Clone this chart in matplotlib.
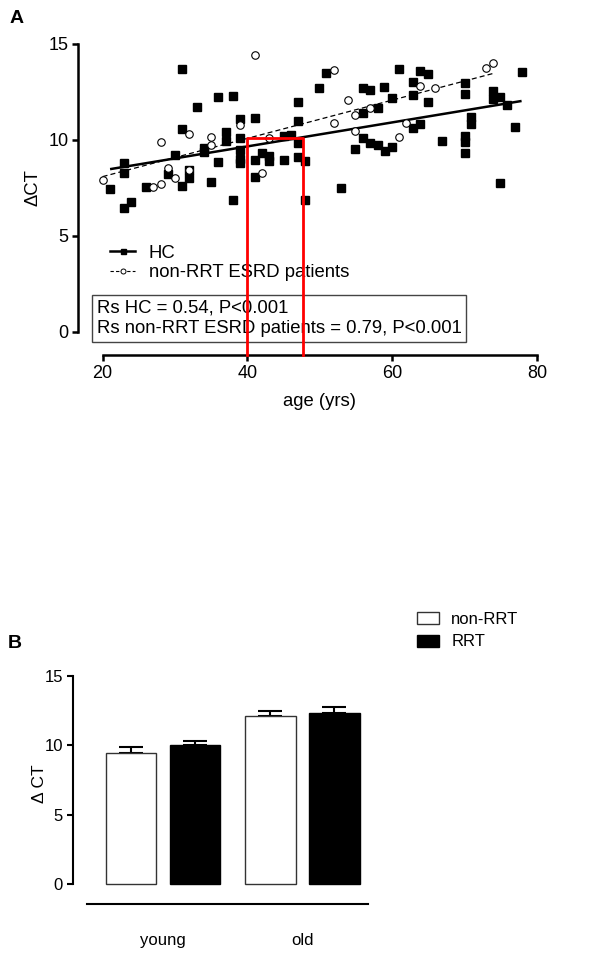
import numpy as np
import matplotlib
matplotlib.use("Agg")
import matplotlib.pyplot as plt
from matplotlib.lines import Line2D
from matplotlib.patches import Patch

plt.rcParams['font.family'] = ['Liberation Sans', 'DejaVu Sans']

# ---------------- panel A data ----------------
hc_age = [21.0, 22.9, 22.9, 22.9, 23.9, 26.0, 29.0, 30.0, 31.0, 31.0, 31.0, 32.0, 32.0,
          33.0, 34.0, 34.0, 35.0, 35.9, 35.9, 37.0, 37.0, 38.0, 38.0, 39.0, 39.0, 39.0,
          39.0, 39.0, 41.0, 41.0, 41.0, 42.0, 43.0, 43.0, 45.0, 45.0, 46.0, 47.0, 47.0,
          47.0, 47.0, 48.0, 48.0, 49.9, 50.9, 52.9, 54.9, 56.0, 56.0, 56.0, 57.0, 57.0,
          58.0, 58.0, 58.9, 59.0, 60.0, 60.0, 60.9, 62.9, 62.9, 62.9, 63.9, 63.9, 64.9,
          64.9, 66.9, 70.0, 70.0, 70.0, 70.0, 70.0, 70.9, 70.9, 73.9, 73.9, 74.9, 74.9,
          75.9, 76.9, 77.9]
hc_ct = [7.47, 8.82, 8.26, 6.47, 6.77, 7.57, 8.23, 9.22, 13.71, 10.56, 7.60, 8.44, 8.02,
         11.70, 9.60, 9.39, 7.81, 12.22, 8.87, 10.43, 9.95, 12.31, 6.88, 11.08, 10.08, 9.49,
         9.00, 8.79, 11.14, 8.94, 8.07, 9.30, 9.17, 8.92, 10.19, 8.97, 10.25, 11.97, 10.97,
         9.83, 9.13, 8.89, 6.88, 12.73, 13.47, 7.50, 9.51, 12.73, 11.39, 10.09, 12.59, 9.86,
         11.68, 9.74, 12.74, 9.44, 12.20, 9.65, 13.68, 13.04, 12.34, 10.64, 13.61, 10.82, 13.42,
         12.00, 9.93, 12.95, 12.38, 10.21, 9.90, 9.34, 11.18, 10.82, 12.57, 12.12, 12.24, 7.74,
         11.84, 10.66, 13.54]

esrd_age = [20.0, 27.0, 28.0, 28.0, 29.0, 30.0, 32.0, 32.0, 35.0, 35.0, 39.0, 41.0, 42.0,
            43.0, 51.9, 51.9, 53.9, 54.9, 54.9, 57.0, 60.9, 61.9, 63.9, 65.9, 72.9, 73.9]
esrd_ct = [7.92, 7.57, 9.90, 7.71, 8.52, 8.02, 10.31, 8.44, 10.17, 9.72, 10.78, 14.44, 8.26,
           10.12, 13.65, 10.87, 12.10, 11.29, 10.47, 11.68, 10.14, 10.87, 12.81, 12.71, 13.77, 13.99]

# regression lines (end points)
hc_fit_age = [21.2, 77.7]
hc_fit_ct = [8.49, 12.02]
esrd_fit_age = [20.0, 74.0]
esrd_fit_ct = [8.09, 13.47]

# highlighted age window
box_age = [40.0, 47.7]
box_ct = 10.1

stats_text = "Rs HC = 0.54, P<0.001\nRs non-RRT ESRD patients = 0.79, P<0.001"

# ---------------- panel B data ----------------
groups = ['young', 'old']
nonrrt_mean = [9.44, 12.11]
nonrrt_sem = [0.46, 0.38]
rrt_mean = [10.0, 12.35]
rrt_sem = [0.33, 0.38]

fig = plt.figure(figsize=(6, 9.56), dpi=100)

# =================== A ===================
axA = fig.add_axes([0.13, 0.6287, 0.765, 0.3253])
axA.plot(hc_age, hc_ct, ls='none', marker='s', ms=5.4, mfc='black', mec='black', zorder=3)
axA.plot(esrd_age, esrd_ct, ls='none', marker='o', ms=5.4, mfc='white', mec='black',
         mew=0.8, zorder=3)
axA.plot(hc_fit_age, hc_fit_ct, color='black', lw=1.8, zorder=2)
axA.plot(esrd_fit_age, esrd_fit_ct, color='black', lw=0.9, ls=(0, (4, 2.5)), zorder=2)

# red window (three sides, bottom sits on the axis)
axA.plot([box_age[0], box_age[0], box_age[1], box_age[1]],
         [-1.2, box_ct, box_ct, -1.2], color='red', lw=2, zorder=6, clip_on=False)

axA.set_xlim(16.6, 80)
axA.set_ylim(-1.2, 15)
axA.set_xticks([20, 40, 60, 80])
axA.set_yticks([0, 5, 10, 15])
for s in ['top', 'right']:
    axA.spines[s].set_visible(False)
axA.spines['left'].set_bounds(0, 15)
axA.spines['bottom'].set_bounds(20, 80)
for s in ['left', 'bottom']:
    axA.spines[s].set_linewidth(1.8)
axA.tick_params(width=1.8, length=4, labelsize=13, pad=3)

axA.set_xlabel('age (yrs)', fontsize=13.3)
axA.xaxis.set_label_coords(0.527, -0.150)
axA.xaxis.label.set_va('center')
axA.set_ylabel('ΔCT', fontsize=13.3)
axA.yaxis.set_label_coords(-0.098, 0.537)
axA.yaxis.label.set_va('center')

legA = [Line2D([], [], color='black', lw=1.8, marker='s', ms=3.6),
        Line2D([], [], color='black', lw=0.8, ls=(0, (3, 2)), marker='o', ms=3.6,
               mfc='white', mew=0.7)]
axA.legend(legA, ['HC', 'non-RRT ESRD patients'], loc='center left',
           bbox_to_anchor=(0.07, 0.296), frameon=False, fontsize=13.3, borderpad=0,
           borderaxespad=0, handlelength=1.35, handletextpad=0.75, labelspacing=0.12)

axA.text(0.041, 0.117, stats_text, transform=axA.transAxes, fontsize=13.3, va='center',
         ha='left', linespacing=1.25, zorder=5,
         bbox=dict(boxstyle='square,pad=0.26', fc='white', ec='#444444', lw=1.0))

fig.text(0.028, 0.981, 'A', fontsize=14, fontweight='bold', ha='center', va='center')

# =================== B ===================
axB = fig.add_axes([0.1212, 0.05439, 0.499, 0.2388])
x = np.arange(len(groups))
w = 0.363
off = 0.229
axB.bar(x - off, nonrrt_mean, w, color='white', edgecolor='#333333', lw=1.0, zorder=2)
axB.bar(x + off, rrt_mean, w, color='black', edgecolor='black', lw=1.0, zorder=2)
axB.errorbar(x - off, nonrrt_mean, yerr=[[0] * len(groups), nonrrt_sem], fmt='none',
             ecolor='black', elinewidth=1.5, capsize=8.3, capthick=1.5, zorder=1)
axB.errorbar(x + off, rrt_mean, yerr=[[0] * len(groups), rrt_sem], fmt='none',
             ecolor='black', elinewidth=1.5, capsize=8.3, capthick=1.5, zorder=1)

axB.set_xlim(-0.647, 1.5)
axB.set_ylim(-1.42, 15)
axB.set_yticks([0, 5, 10, 15])
axB.set_xticks(x)
axB.set_xticklabels(groups)
for s in ['top', 'right']:
    axB.spines[s].set_visible(False)
axB.spines['left'].set_bounds(0, 15)
axB.spines['bottom'].set_bounds(-0.546, 1.469)
axB.spines['left'].set_linewidth(1.5)
axB.spines['bottom'].set_linewidth(1.5)
axB.tick_params(axis='y', width=1.5, length=4, labelsize=12, pad=3)
axB.tick_params(axis='x', length=0, labelsize=12, pad=21)

axB.set_ylabel('Δ CT', fontsize=12.5)
axB.yaxis.set_label_coords(-0.1126, 0.529)
axB.yaxis.label.set_va('center')

legB = [Patch(facecolor='white', edgecolor='#333333', lw=1.0),
        Patch(facecolor='black', edgecolor='black', lw=1.0)]
fig.legend(legB, ['non-RRT', 'RRT'], loc='upper left',
           bbox_to_anchor=(417 / 600, 1 - 612 / 956), frameon=False, fontsize=12,
           borderpad=0, borderaxespad=0, handlelength=1.3, handleheight=0.76,
           handletextpad=0.75, labelspacing=0.45)

fig.text(0.025, 1 - 643 / 956, 'B', fontsize=14, fontweight='bold', ha='center',
         va='center')

fig.savefig('out.png', dpi=100)
